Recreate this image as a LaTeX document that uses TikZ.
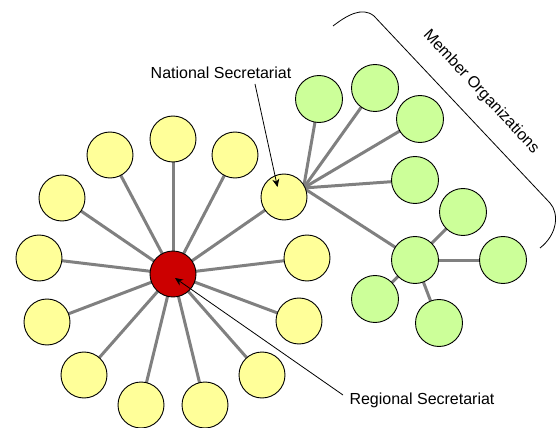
\documentclass[tikz,border=0pt]{standalone}
\usepackage{fontspec}
\setmainfont{Liberation Sans}
\usetikzlibrary{backgrounds,arrows.meta}
\definecolor{yel}{RGB}{255,255,153}
\definecolor{grn}{RGB}{204,255,153}
\definecolor{redc}{RGB}{204,0,0}
\definecolor{edgec}{RGB}{128,128,128}
\tikzset{
  ball/.style={circle,draw=black,line width=0.9pt,minimum size=46pt,inner sep=0pt},
  ybal/.style={ball,fill=yel},
  gbal/.style={ball,fill=grn,minimum size=47pt},
  rbal/.style={ball,fill=redc},
  link/.style={draw=edgec,line width=3pt},
  pointer/.style={draw=black,line width=0.8pt,-{Stealth[length=8pt,width=7pt]}},
  lbl/.style={font=\fontsize{16}{18}\selectfont,inner sep=0pt}
}
\begin{document}
\begin{tikzpicture}[x=1pt,y=-1pt]
\useasboundingbox (0,0) rectangle (558,428);
% red hub
\node[rbal] (reg) at (173,274) {};
% yellow ring
\node[ybal] (y1) at (173,139) {};
\node[ybal] (y2) at (235,155) {};
\node[ybal] (y3) at (110,155) {};
\node[ybal] (y4) at (62,198) {};
\node[ybal] (y5) at (39,258) {};
\node[ybal] (y6) at (47,322) {};
\node[ybal] (y7) at (84,375) {};
\node[ybal] (y8) at (141,405) {};
\node[ybal] (y9) at (205,405) {};
\node[ybal] (y10) at (262,375) {};
\node[ybal] (y11) at (299,321) {};
\node[ybal] (y12) at (307,258) {};
\node[ybal] (nat) at (284,197) {};
% green
\node[gbal] (g1) at (319,99) {};
\node[gbal] (g2) at (375,88) {};
\node[gbal] (g3) at (420,119) {};
\node[gbal] (g4) at (415,180) {};
\node[gbal] (g5) at (463,212) {};
\node[gbal] (hub) at (415,260) {};
\node[gbal] (g6) at (503,260) {};
\node[gbal] (g7) at (375,299) {};
\node[gbal] (g8) at (439,323) {};
\coordinate (np) at (303.5,188);
\begin{scope}[on background layer]
  \foreach \n in {y1,y2,y3,y4,y5,y6,y7,y8,y9,y10,y11,y12,nat}
    \draw[link] (reg.center) -- (\n.center);
  \foreach \n in {g1,g2,g3,g4,hub}
    \draw[link] (np) -- (\n.center);
  \foreach \n in {g5,g6,g7,g8}
    \draw[link] (hub.center) -- (\n.center);
\end{scope}
% labels
\node[lbl] (natl) at (221,73) {National Secretariat};
\node[lbl] (regl) at (422,400) {Regional Secretariat};
\coordinate (natfrom) at (255,84);
\coordinate (natto) at (277.5,187);
\coordinate (regfrom) at (343,395);
\coordinate (regto) at (175,278);
\draw[pointer] (natfrom) -- (natto);
\draw[pointer] (regfrom) -- (regto);
% brace
\draw[line width=0.8pt] (333,26) .. controls (346,16) and (362,6) .. (374,16)
  -- (550,203) .. controls (559,213) and (558,234) .. (540,248);
\node[lbl,rotate=-47] (memb) at (481,92) {Member Organizations};
\end{tikzpicture}
\end{document}
